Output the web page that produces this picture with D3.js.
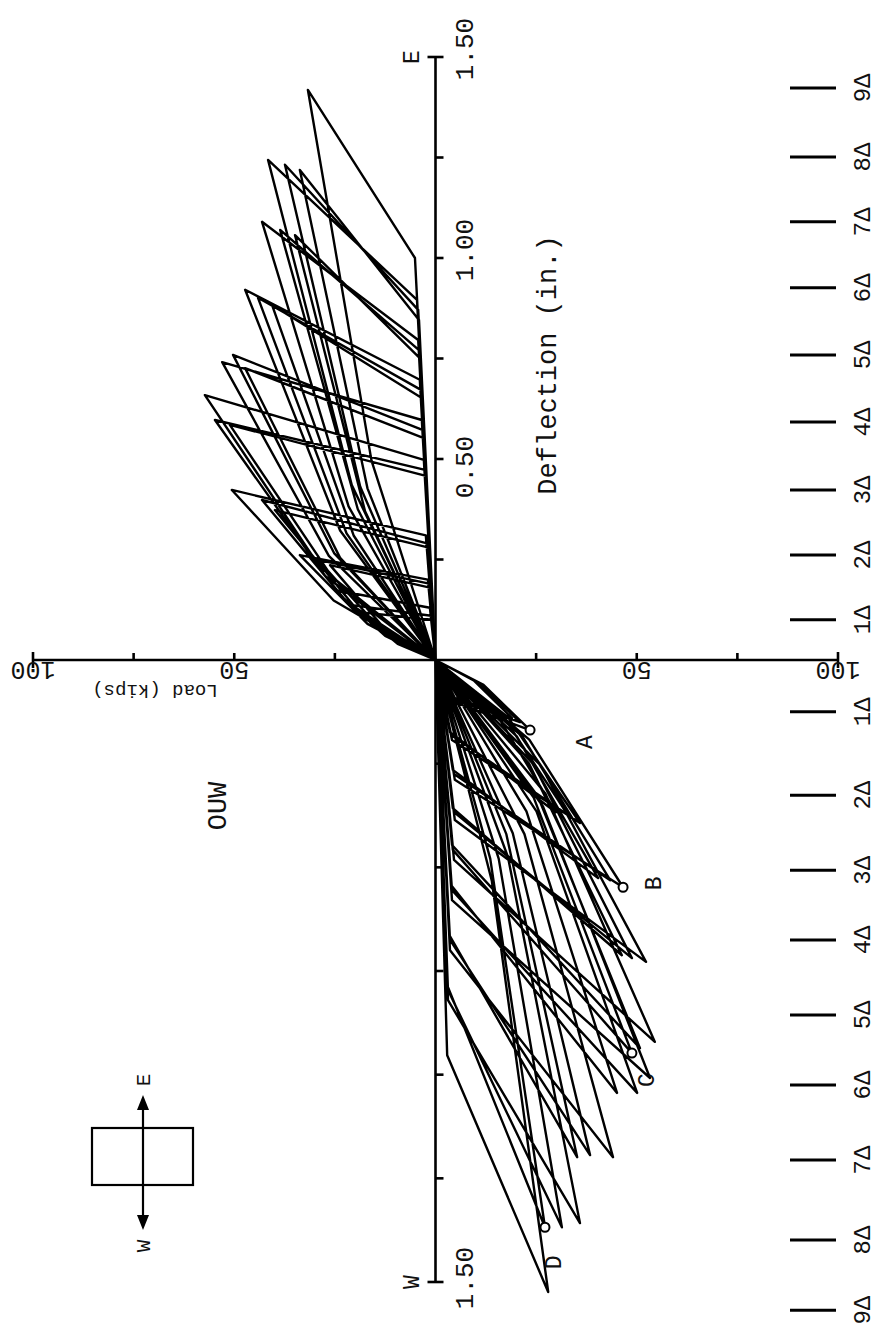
<!DOCTYPE html>
<html>
<head>
<meta charset="utf-8">
<script src="https://cdn.jsdelivr.net/npm/d3@7"></script>
<style>
  body { margin: 0; background: #ffffff; }
  svg { display: block; }
  text { font-family: "Liberation Mono", "DejaVu Sans Mono", monospace; fill: #111; }
</style>
</head>
<body>
<svg id="chart" width="877" height="1338"></svg>
<script>
// ---- cyclic test record, one entry per cycle: 1Δ..8Δ three cycles each, 9Δ one cycle
// east half-cycles (deflection in., load kips)
const eastMidDefl  = [0.06,0.05,0.04, 0.09,0.087,0.083, 0.148,0.139,0.131, 0.231,0.209,0.205, 0.259,0.266,0.254, 0.322,0.315,0.309, 0.382,0.375,0.370, 0.435,0.431,0.427, 0.496];
const eastMidLoad  = [12.5,10.6,9.4, 16.9,14.6,13.1, 25.3,21.6,20.0, 28.7,27.4,25.6, 26.5,25.2,23.7, 23.7,22.1,20.3, 21.6,19.3,17.5, 20.8,18.7,16.9, 15.9];
const eastPeakDefl = [0.174,0.137,0.119, 0.261,0.249,0.236, 0.423,0.398,0.373, 0.659,0.597,0.585, 0.741,0.759,0.726, 0.921,0.901,0.883, 1.090,1.070,1.057, 1.244,1.232,1.219, 1.418];
const eastPeakLoad = [25.0,21.2,18.8, 33.7,29.2,26.2, 50.6,43.1,39.9, 57.3,54.8,51.1, 53.0,50.3,47.3, 47.3,44.1,40.6, 43.1,38.6,34.9, 41.6,37.4,33.7, 31.7];
const eastKneeDefl = [0.13,0.11,0.10, 0.20,0.19,0.18, 0.31,0.29,0.28, 0.498,0.473,0.458, 0.597,0.572,0.552, 0.697,0.672,0.652, 0.796,0.771,0.751, 0.896,0.871,0.846, 1.000];
const eastKneeLoad = [1.4,1.1,0.9, 1.9,1.6,1.4, 2.4,2.1,1.9, 2.9,2.6,2.4, 3.4,3.1,2.9, 3.9,3.6,3.4, 4.3,4.1,3.9, 4.6,4.3,4.1, 5.1];

// west half-cycles
const westMidDefl  = [-0.059,-0.053,-0.049, -0.138,-0.131,-0.128, -0.192,-0.186,-0.184, -0.255,-0.252,-0.249, -0.322,-0.332,-0.328, -0.353,-0.365,-0.365, -0.420,-0.418,-0.420, -0.475,-0.479,-0.479, -0.533];
const westMidLoad  = [-11.8,-10.5,-9.5, -18.0,-16.5,-15.0, -23.3,-21.7,-20.2, -26.2,-24.4,-23.2, -27.3,-24.4,-25.4, -26.7,-25.1,-22.6, -22.1,-19.2,-17.6, -18.0,-15.7,-13.6, -14.0];
const westPeakDefl = [-0.169,-0.150,-0.140, -0.393,-0.374,-0.367, -0.548,-0.531,-0.526, -0.728,-0.719,-0.712, -0.921,-0.948,-0.936, -1.008,-1.044,-1.044, -1.199,-1.194,-1.199, -1.358,-1.368,-1.368, -1.524];
const westPeakLoad = [-23.5,-21.0,-19.0, -35.9,-32.9,-29.9, -46.6,-43.4,-40.4, -52.3,-48.8,-46.3, -54.5,-48.8,-50.8, -53.3,-50.1,-45.1, -44.1,-38.4,-35.2, -35.9,-31.4,-27.2, -28.0];
const westKneeDefl = [-0.096,-0.089,-0.084, -0.193,-0.181,-0.174, -0.289,-0.275,-0.265, -0.386,-0.367,-0.357, -0.482,-0.458,-0.446, -0.579,-0.555,-0.543, -0.700,-0.675,-0.663, -0.820,-0.796,-0.784, -0.953];
const westKneeLoad = [-3.1,-2.9,-2.6, -4.1,-3.9,-3.6, -4.8,-4.6,-4.3, -4.8,-4.6,-4.3, -4.6,-4.3,-4.1, -4.1,-4.1,-3.9, -3.6,-3.6,-3.4, -3.1,-3.1,-2.9, -2.9];

// labelled west peaks (cycle index)
const markerNames = ["A", "B", "C", "D"];
const markerCycle = [0, 6, 13, 23];

// deflection levels
const deltaNames = ["1Δ","2Δ","3Δ","4Δ","5Δ","6Δ","7Δ","8Δ","9Δ"];
const deltaEast = [0.100, 0.261, 0.423, 0.592, 0.759, 0.926, 1.090, 1.251, 1.423];
const deltaWest = [-0.125, -0.326, -0.507, -0.675, -0.856, -1.025, -1.206, -1.399, -1.568];

// axis ticks and labels
const deflTicks = [-1.5,-1.25,-1.0,-0.75,-0.5,-0.25,0.25,0.5,0.75,1.0,1.25,1.5];
const deflTickLabels = [1.5, 1.0, 0.5, -1.5];
const loadTicks = [-75,-50,-25,25,50,75];
const loadTickLabels = [100, 50, -50, -100];

// hand-placed offsets of the typed letters (px)
const deflLabelDy = [-8, -8, 8, -4];
const markerDx = [54, 30, 14, 8];
const markerDy = [12, -4, 27, 35];

const svg = d3.select("#chart");

// load across the page (east load to the left), deflection down the page
const x = d3.scaleLinear().domain([100, -100]).range([33, 838]);
const y = d3.scaleLinear().domain([1.5, 0, -1.5]).range([57, 660, 1282]);
const x0 = x(0), y0 = y(0);

// ---- hysteresis loops
const pts = [[0, 0]];
eastPeakDefl.forEach((_, i) => {
  pts.push([eastMidDefl[i], eastMidLoad[i]]);
  pts.push([eastPeakDefl[i], eastPeakLoad[i]]);
  pts.push([eastKneeDefl[i], eastKneeLoad[i]]);
  pts.push([0, 0]);
  pts.push([westMidDefl[i], westMidLoad[i]]);
  pts.push([westPeakDefl[i], westPeakLoad[i]]);
  pts.push([westKneeDefl[i], westKneeLoad[i]]);
  pts.push([0, 0]);
});
const line = d3.line().x(d => x(d[1])).y(d => y(d[0]));
svg.append("path")
  .attr("d", line(pts))
  .attr("fill", "none")
  .attr("stroke", "#000")
  .attr("stroke-width", 2.4)
  .attr("stroke-linejoin", "round");

// ---- axes
const ax = svg.append("g").attr("stroke", "#000").attr("stroke-width", 2.6);
ax.append("line").attr("x1", x0).attr("x2", x0).attr("y1", y(1.5)).attr("y2", y(-1.5));
ax.selectAll(".dt").data(deflTicks).join("line")
  .attr("x1", d => Math.abs(d) === 1.5 ? x0 - 8 : x0)
  .attr("x2", x0 + 8)
  .attr("y1", d => y(d)).attr("y2", d => y(d));
ax.append("line").attr("x1", x(100)).attr("x2", x(-100)).attr("y1", y0).attr("y2", y0);
ax.selectAll(".lt").data(loadTicks).join("line")
  .attr("x1", d => x(d)).attr("x2", d => x(d))
  .attr("y1", y0 - 7).attr("y2", y0);
ax.selectAll(".le").data([100, -100]).join("line")
  .attr("x1", d => x(d)).attr("x2", d => x(d))
  .attr("y1", y0 - 8).attr("y2", y0 + 8);

// deflection tick labels
svg.selectAll(".dl").data(deflTickLabels).join("text")
  .attr("transform", (d, i) => `translate(${x0 + 37},${y(d) + deflLabelDy[i]}) rotate(-90)`)
  .attr("text-anchor", "middle")
  .attr("font-size", 26)
  .text(d => Math.abs(d).toFixed(2));

// load tick labels, upside down
svg.selectAll(".ll").data(loadTickLabels).join("text")
  .attr("transform", d => `translate(${x(d)},${y0 + 2}) rotate(180)`)
  .attr("text-anchor", "middle")
  .attr("font-size", 25)
  .text(d => Math.abs(d));

// axis end letters
svg.append("text").attr("transform", `translate(${x0 - 17},${y(1.5)}) rotate(-90)`)
  .attr("text-anchor", "middle").attr("font-size", 23).text("E");
svg.append("text").attr("transform", `translate(${x0 - 17},${y(-1.5)}) rotate(-90)`)
  .attr("text-anchor", "middle").attr("font-size", 23).text("W");

// titles
svg.append("text").attr("transform", `translate(556,365) rotate(-90)`)
  .attr("text-anchor", "middle").attr("font-size", 27).text("Deflection (in.)");
svg.append("text").attr("transform", `translate(155,${y0 + 25}) rotate(180)`)
  .attr("text-anchor", "middle").attr("font-size", 19).text("Load (kips)");
svg.append("text").attr("transform", `translate(226,806) rotate(-90)`)
  .attr("text-anchor", "middle").attr("font-size", 27).text("OUW");

// ---- deflection level bars
const deltaRows = deltaNames.map((n, i) => ({ n, d: deltaEast[i] }))
  .concat(deltaNames.map((n, i) => ({ n, d: deltaWest[i] })));
svg.selectAll(".db").data(deltaRows).join("line")
  .attr("x1", 790).attr("x2", 836)
  .attr("y1", d => y(d.d)).attr("y2", d => y(d.d))
  .attr("stroke", "#000").attr("stroke-width", 3);
svg.selectAll(".dn").data(deltaRows).join("text")
  .attr("transform", d => `translate(870,${y(d.d)}) rotate(-90)`)
  .attr("text-anchor", "middle")
  .attr("font-size", 24)
  .text(d => d.n);

// ---- labelled peaks
const markers = markerNames.map((n, k) => ({
  n, k, d: westPeakDefl[markerCycle[k]], p: westPeakLoad[markerCycle[k]]
}));
svg.selectAll(".mk").data(markers).join("circle")
  .attr("cx", d => x(d.p)).attr("cy", d => y(d.d)).attr("r", 4.5)
  .attr("fill", "#fff").attr("stroke", "#000").attr("stroke-width", 2);
svg.selectAll(".mn").data(markers).join("text")
  .attr("transform", d => `translate(${x(d.p) + markerDx[d.k] + 8},${y(d.d) + markerDy[d.k]}) rotate(-90)`)
  .attr("text-anchor", "middle")
  .attr("font-size", 23)
  .text(d => d.n);

// ---- loading direction sketch
const leg = svg.append("g").attr("stroke", "#000").attr("stroke-width", 2.2).attr("fill", "none");
leg.append("rect").attr("x", 92).attr("y", 1128).attr("width", 101).attr("height", 57);
leg.append("line").attr("x1", 143).attr("x2", 143).attr("y1", 1106).attr("y2", 1218);
svg.append("path").attr("d", "M143,1095 L137,1110 L149,1110 Z").attr("fill", "#000");
svg.append("path").attr("d", "M143,1230 L137,1215 L149,1215 Z").attr("fill", "#000");
svg.append("text").attr("transform", "translate(150,1080) rotate(-90)")
  .attr("text-anchor", "middle").attr("font-size", 21).text("E");
svg.append("text").attr("transform", "translate(150,1246) rotate(-90)")
  .attr("text-anchor", "middle").attr("font-size", 21).text("W");
</script>
</body>
</html>
